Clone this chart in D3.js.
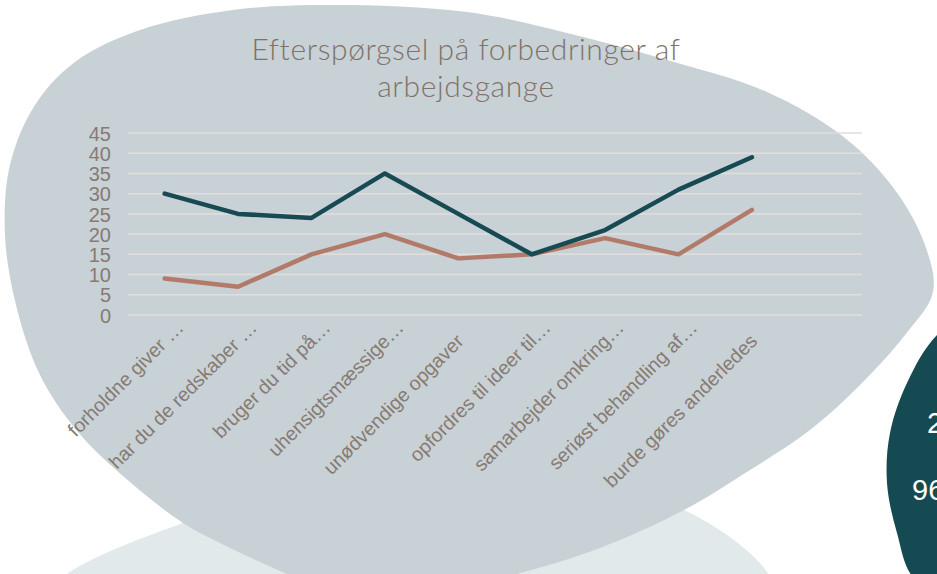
<!DOCTYPE html>
<html>
<head>
<meta charset="utf-8">
<script src="https://cdn.jsdelivr.net/npm/d3@7"></script>
<style>
  body { margin: 0; background: #fff; overflow: hidden; }
  text { font-family: "Liberation Sans", Arial, sans-serif; }
</style>
</head>
<body>
<svg id="chart" width="937" height="574"></svg>
<script>
// chart data
var titleLines = ["Efterspørgsel på forbedringer af", "arbejdsgange"];
var categories = ["forholdne giver …", "har du de redskaber …", "bruger du tid på…", "uhensigtsmæssige…",
	"unødvendige opgaver", "opfordres til ideer til…", "samarbejder omkring…", "seriøst behandling af…",
	"burde gøres anderledes"];
var seriesA = [30, 25, 24, 35, 25, 15, 21, 31, 39];   // dark teal
var seriesB = [9, 7, 15, 20, 14, 15, 19, 15, 26];     // brown
var yTicks = [0, 5, 10, 15, 20, 25, 30, 35, 40, 45];
var sideTexts = ["2", "96"];

var width = 937, height = 574;
var svg = d3.select("#chart");

// background shapes (decoration, not data)
var blob = d3.line().curve(d3.curveCatmullRomClosed.alpha(0.5));
var lightShape = [[55,590],[183,523],[330,492],[500,486],[684,510],[772,590],[420,660]];
var greyShape = [[333,5],[467,12],[567,33],[667,60],[767,92],[845,138],[895,190],[925,245],[933,292],
	[905,335],[860,385],[810,430],[750,470],[684,510],[600,548],[517,574],[420,598],[330,590],[287,574],[220,543],
	[183,523],[130,482],[78,432],[40,375],[16,305],[5,235],[10,165],[35,105],[75,62],[140,30],[233,10]];
var tealShape = [[990,300],[937,335],[907,383],[890,433],[887,483],[897,533],[915,580],[990,620]];

svg.append("path").attr("d", blob(lightShape)).attr("fill", "#e1e9ea");
svg.append("path").attr("d", blob(greyShape)).attr("fill", "#c8d1d5");
svg.append("path").attr("d", blob(tealShape)).attr("fill", "#164a52");

svg.selectAll(".side").data(sideTexts).enter().append("text")
	.attr("class", "side")
	.attr("x", function(d, i) { return i == 0 ? 927 : 912; })
	.attr("y", function(d, i) { return i == 0 ? 433 : 500; })
	.attr("fill", "#fff")
	.attr("font-size", 29)
	.text(function(d) { return d; });

// title
svg.selectAll(".title").data(titleLines).enter().append("text")
	.attr("class", "title")
	.attr("x", 466)
	.attr("y", function(d, i) { return 60 + i * 37; })
	.attr("text-anchor", "middle")
	.attr("fill", "#807169")
	.style("font-family", "Lato, 'Open Sans', sans-serif")
	.style("font-weight", 300)
	.style("letter-spacing", "0.6px")
	.attr("font-size", 30)
	.text(function(d) { return d; });

// scales - plot has an empty 10th slot on the right
var x = d3.scaleBand().domain(d3.range(categories.length + 1)).range([128, 862]);
var y = d3.scaleLinear().domain([0, 45]).range([315, 133]);

// gridlines
svg.append("g").selectAll("line").data(yTicks).enter().append("line")
	.attr("x1", 128).attr("x2", 862)
	.attr("y1", function(d) { return y(d); })
	.attr("y2", function(d) { return y(d); })
	.attr("stroke", "#e1dedb")
	.attr("stroke-width", 1.5);

// y axis
var yAxis = svg.append("g")
	.attr("transform", "translate(111,0)")
	.call(d3.axisLeft(y).tickValues(yTicks).tickSize(0).tickPadding(0));
yAxis.select(".domain").remove();
yAxis.selectAll("text")
	.attr("fill", "#877a72")
	.attr("font-size", 20)
	.attr("dy", "0.36em")
	.style("font-family", "'Liberation Sans', Arial, sans-serif");

// x labels, rotated
svg.append("g").selectAll("text").data(categories).enter().append("text")
	.attr("transform", function(d, i) {
		return "translate(" + (x(i) + x.bandwidth() / 2 + 20) + ",329) rotate(-45)";
	})
	.attr("dx", function(d) { return d.slice(-1) == "…" ? 0 : -19; })
	.attr("text-anchor", "end")
	.attr("fill", "#877a72")
	.attr("font-size", 19.5)
	.text(function(d) { return d; });

// lines
var line = d3.line()
	.x(function(d, i) { return x(i) + x.bandwidth() / 2; })
	.y(function(d) { return y(d); });

svg.append("path").datum(seriesB)
	.attr("d", line)
	.attr("fill", "none")
	.attr("stroke", "#b27b69")
	.attr("stroke-width", 4.5)
	.attr("stroke-linecap", "round")
	.attr("stroke-linejoin", "round");

svg.append("path").datum(seriesA)
	.attr("d", line)
	.attr("fill", "none")
	.attr("stroke", "#174a53")
	.attr("stroke-width", 4.5)
	.attr("stroke-linecap", "round")
	.attr("stroke-linejoin", "round");
</script>
</body>
</html>
